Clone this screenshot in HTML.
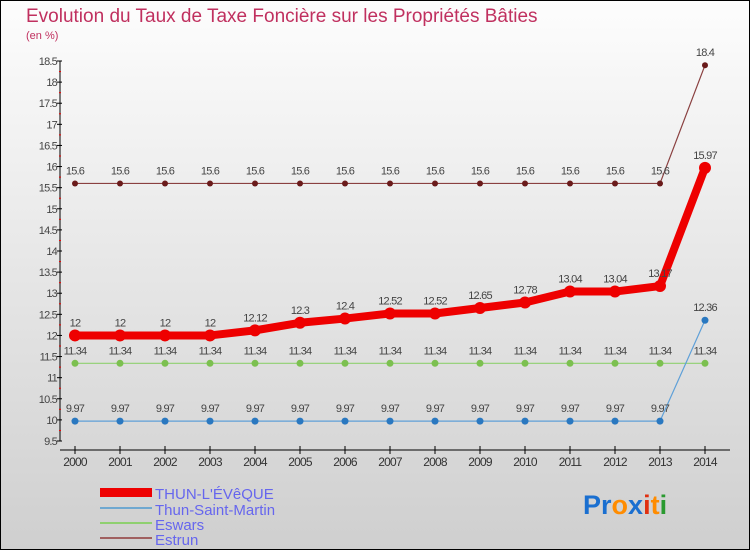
<!DOCTYPE html>
<html><head><meta charset="utf-8"><style>
body{margin:0}
svg{display:block;font-family:"Liberation Sans",sans-serif}
</style></head><body>
<svg id="c" width="750" height="550" xmlns="http://www.w3.org/2000/svg">
<defs><linearGradient id="bg" x1="0" y1="0" x2="0" y2="1"><stop offset="0" stop-color="#fdfdfd"/><stop offset="1" stop-color="#cfcfcf"/></linearGradient></defs>
<rect x="0.5" y="0.5" width="749" height="549" fill="url(#bg)" stroke="#000"/>
<text x="26" y="22" font-size="19" fill="#c0305f">Evolution du Taux de Taxe Foncière sur les Propriétés Bâties</text>
<text x="26" y="39" font-size="11" fill="#c0305f">(en %)</text>
<g id="axes"></g><g id="series"></g>
<g>
<rect x="100" y="488" width="52" height="9" fill="#ee0000"/>
<text x="155" y="499" font-size="15" fill="#6666ee">THUN-L'ÉVêQUE</text>
<rect x="100" y="507" width="52" height="2" fill="#6fa8d0"/>
<text x="155" y="515" font-size="15" fill="#6666ee">Thun-Saint-Martin</text>
<rect x="100" y="522" width="52" height="2" fill="#8fd070"/>
<text x="155" y="530" font-size="15" fill="#6666ee">Eswars</text>
<rect x="100" y="537" width="52" height="2" fill="#a06060"/>
<text x="155" y="545" font-size="15" fill="#6666ee">Estrun</text>
</g>
<text x="583" y="514" font-size="27" font-weight="bold"><tspan fill="#1a6fd0">Pr</tspan><tspan fill="#ff8c00">o</tspan><tspan fill="#1a6fd0">x</tspan><tspan fill="#e03010">i</tspan><tspan fill="#ff8c00">t</tspan><tspan fill="#2a9a30">i</tspan></text>
</svg>
<script>
const years=[2000,2001,2002,2003,2004,2005,2006,2007,2008,2009,2010,2011,2012,2013,2014];
const yTicks=[9.5,10,10.5,11,11.5,12,12.5,13,13.5,14,14.5,15,15.5,16,16.5,17,17.5,18,18.5];
const thunLeveque=[12,12,12,12,12.12,12.3,12.4,12.52,12.52,12.65,12.78,13.04,13.04,13.17,15.97];
const thunSaintMartin=[9.97,9.97,9.97,9.97,9.97,9.97,9.97,9.97,9.97,9.97,9.97,9.97,9.97,9.97,12.36];
const eswars=[11.34,11.34,11.34,11.34,11.34,11.34,11.34,11.34,11.34,11.34,11.34,11.34,11.34,11.34,11.34];
const estrun=[15.6,15.6,15.6,15.6,15.6,15.6,15.6,15.6,15.6,15.6,15.6,15.6,15.6,15.6,18.4];
const NS="http://www.w3.org/2000/svg";
const X=i=>75+i*45;
const Y=v=>441-(v-9.5)*(380/9);
function mk(p,t,a){const e=document.createElementNS(NS,t);for(const k in a)e.setAttribute(k,a[k]);p.appendChild(e);return e;}
const ax=document.getElementById('axes');
let e=mk(ax,'line',{x1:60,y1:Y(18.5),x2:60,y2:Y(9.5),stroke:'#000'});


yTicks.forEach((t,i)=>{
 mk(ax,'line',{x1:57,y1:Y(t),x2:62,y2:Y(t),stroke:'#000'});
 if(i<yTicks.length-1)mk(ax,'line',{x1:59,y1:Y(t+0.25),x2:61,y2:Y(t+0.25),stroke:'#e00'});
 const l=mk(ax,'text',{x:57,y:Y(t)+4,'font-size':11,'text-anchor':'end',fill:'#444','letter-spacing':'-0.8'});
 l.textContent=t;
 
 
});
e=mk(ax,'line',{x1:60,y1:450,x2:730,y2:450,stroke:'#000'});


years.forEach((y,i)=>{
 mk(ax,'line',{x1:X(i),y1:446,x2:X(i),y2:454,stroke:'#000'});
 const l=mk(ax,'text',{x:X(i),y:466,'font-size':12,'text-anchor':'middle',fill:'#333','letter-spacing':'-0.8'});
 l.textContent=y;
 
 
});
const sg=document.getElementById('series');
function series(vals,name,color,w,r,mc){
 const g=mk(sg,'g',{});
 
 
 const pl=mk(g,'polyline',{points:vals.map((v,i)=>X(i)+','+Y(v)).join(' '),fill:'none',stroke:color,'stroke-width':w,'stroke-linejoin':'round'});
 
 
 vals.forEach((v,i)=>{
  const c=mk(g,'circle',{cx:X(i),cy:Y(v),r:r,fill:mc});
  
  
  const t=mk(g,'text',{x:X(i),y:Y(v)-9,'font-size':11,'text-anchor':'middle',fill:'#444','letter-spacing':'-0.8'});
  t.textContent=v;
  
  
 });
}
series(estrun,'estrun','#8a4040',1.2,3,'#6a1a1a');
series(eswars,'eswars','#8fd070',1.2,3.5,'#7cc050');
series(thunSaintMartin,'thun-saint-martin','#5fa0d8',1.2,3.5,'#2a78c0');
series(thunLeveque,'thun-leveque','#ee0000',8,6,'#ee0000');
</script>
</body></html>
